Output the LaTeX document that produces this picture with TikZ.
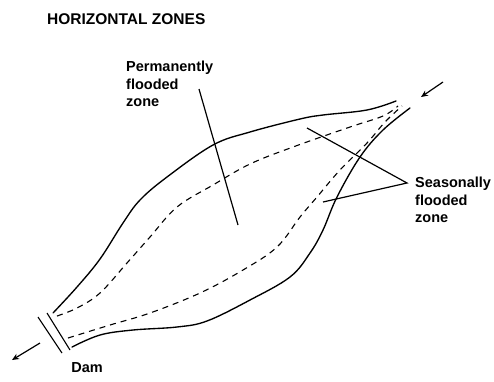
\documentclass[tikz,border=0pt]{standalone}
\usepackage{fontspec}
\setmainfont{Liberation Sans}
\usetikzlibrary{arrows.meta}
\begin{document}
\begin{tikzpicture}[x=1pt,y=-1pt,
  bank/.style={line width=1.35pt,line cap=round},
  inner/.style={line width=1.1pt,dash pattern=on 6pt off 5pt},
  pointer/.style={line width=1.2pt},
  flow/.style={line width=1.2pt,-{Stealth[length=7pt,width=6pt]}},
  lbl/.style={font=\bfseries\fontsize{14.5}{17.5}\selectfont,align=left,inner sep=0pt}]
\useasboundingbox (0,0) rectangle (494,381);
% title
\node[font=\bfseries\fontsize{15.5}{18}\selectfont,anchor=base west,inner sep=0pt] (title) at (47,24) {HORIZONTAL ZONES};
% outer banks
\draw[bank] plot[smooth,tension=0.6] coordinates {(53,313) (77,287) (100,259) (123,223) (140,200) (167,177) (213,145) (250,132) (300,119) (323,115) (367,110) (396,101)};
\draw[bank] plot[smooth,tension=0.6] coordinates {(410,108) (383,130) (360,157) (337,197) (323,230) (310,253) (290,277) (250,300) (207,321) (177,327) (133,330) (100,335) (72,347)};
% seasonal limits (dashed)
\draw[inner] plot[smooth,tension=0.6] coordinates {(57,316) (77,308) (100,293) (127,263) (150,237) (177,207) (213,185) (250,164) (293,147) (350,127) (383,116) (398,106)};
\draw[inner] plot[smooth,tension=0.6] coordinates {(68,338) (110,325) (150,313) (200,293) (243,270) (277,247) (300,217) (317,197) (340,170) (367,143) (385,122) (402,106)};
% dam
\draw[line width=1.1pt] (38,317) -- (62,353);
\draw[line width=1.1pt] (47,313) -- (70,350);
\node[lbl,anchor=center] (dam) at (87,368) {Dam};
% flows
\coordinate (inA) at (443,82);
\coordinate (inB) at (421,97);
\draw[flow] (inA) -- (inB);
\coordinate (outA) at (40,343);
\coordinate (outB) at (12,360);
\draw[flow] (outA) -- (outB);
% labels
\node[lbl,anchor=north west] (perm) at (126,61) {Permanently\\flooded\\zone};
\coordinate (p1) at (199,89);
\coordinate (p2) at (238,225);
\draw[pointer] (p1) -- (p2);
\node[lbl,anchor=north west] (seas) at (415,177) {Seasonally\\flooded\\zone};
\coordinate (apex) at (407,183);
\coordinate (s1) at (307,128);
\coordinate (s2) at (323,202);
\draw[pointer] (s1) -- (apex) -- (s2);
\end{tikzpicture}
\end{document}
